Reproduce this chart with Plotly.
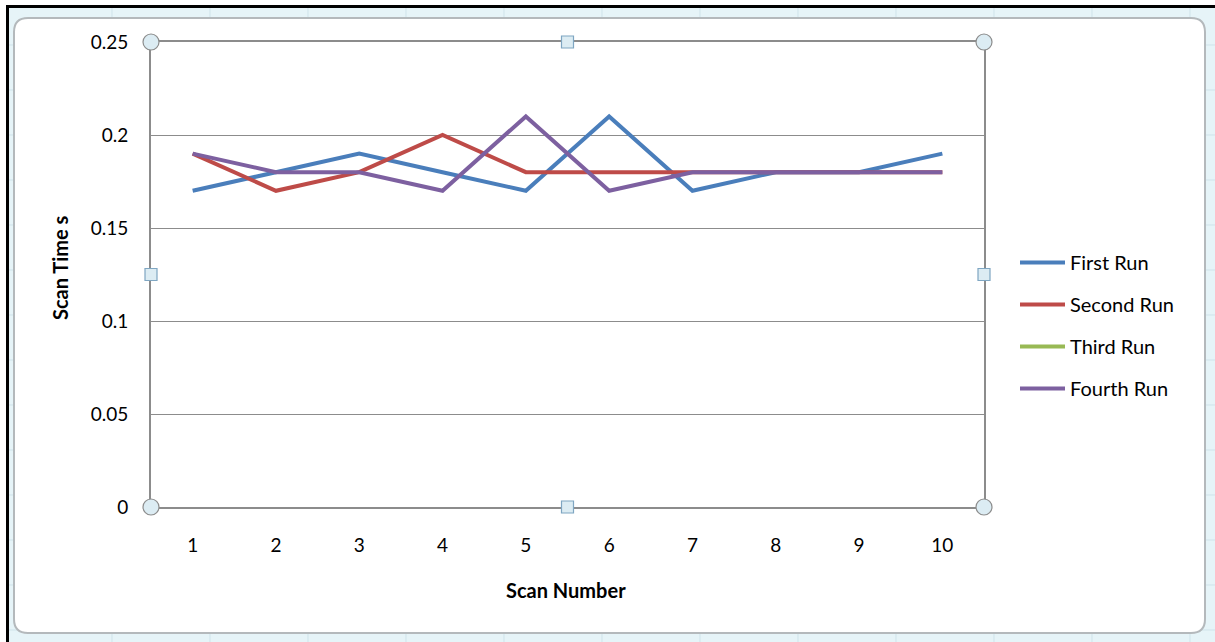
import plotly.graph_objects as go

# Scan timings per run
scan_numbers = [1, 2, 3, 4, 5, 6, 7, 8, 9, 10]
first_run = [0.17, 0.18, 0.19, 0.18, 0.17, 0.21, 0.17, 0.18, 0.18, 0.19]
second_run = [0.19, 0.17, 0.18, 0.20, 0.18, 0.18, 0.18, 0.18, 0.18, 0.18]
third_run = [None] * 10
fourth_run = [0.19, 0.18, 0.18, 0.17, 0.21, 0.17, 0.18, 0.18, 0.18, 0.18]

series_names = ["First Run", "Second Run", "Third Run", "Fourth Run"]
series_values = [first_run, second_run, third_run, fourth_run]
series_colors = ["#4a7ebb", "#be4b48", "#98b954", "#7d60a0"]

W, H = 1215, 642
PL, PR, PT, PB = 151, 984, 42, 507  # plot area in pixels
FONT = "Lato"


def px(x):
    return (x - PL) / (PR - PL)


def py(y):
    return (PB - y) / (PB - PT)


fig = go.Figure()
for name, vals, col in zip(series_names, series_values, series_colors):
    fig.add_trace(go.Scatter(
        x=scan_numbers, y=vals, name=name, mode="lines",
        line=dict(color=col, width=4), legendgroup=name,
    ))

shapes = []
# worksheet background strip around the chart
shapes.append(dict(type="rect", xref="paper", yref="paper", x0=px(8), x1=px(W + 2),
                   y0=py(7), y1=py(H + 2), fillcolor="#e6f4f8", line=dict(width=0),
                   layer="below"))
for gx in [112, 210, 308, 406, 504, 602, 700, 798, 896, 994, 1092, 1190]:
    shapes.append(dict(type="line", xref="paper", yref="paper", x0=px(gx), x1=px(gx),
                       y0=py(7), y1=py(H), line=dict(color="#cfe3ea", width=1), layer="below"))
for gy in [45, 90, 135, 180, 225, 270, 315, 360, 405, 450, 495, 540, 585, 630]:
    shapes.append(dict(type="line", xref="paper", yref="paper", x0=px(8), x1=px(W),
                       y0=py(gy), y1=py(gy), line=dict(color="#cfe3ea", width=1), layer="below"))
# worksheet border lines
shapes.append(dict(type="line", xref="paper", yref="paper", x0=px(6), x1=px(W),
                   y0=py(6.5), y1=py(6.5), line=dict(color="#000000", width=3), layer="below"))
shapes.append(dict(type="line", xref="paper", yref="paper", x0=px(7.5), x1=px(7.5),
                   y0=py(5), y1=py(H), line=dict(color="#000000", width=3), layer="below"))

# chart area: white rounded rectangle
x0, y0, x1, y1, r = 14, 18, 1205, 633, 14
path = (f"M {px(x0 + r)},{py(y0)} L {px(x1 - r)},{py(y0)} "
        f"Q {px(x1)},{py(y0)} {px(x1)},{py(y0 + r)} "
        f"L {px(x1)},{py(y1 - r)} Q {px(x1)},{py(y1)} {px(x1 - r)},{py(y1)} "
        f"L {px(x0 + r)},{py(y1)} Q {px(x0)},{py(y1)} {px(x0)},{py(y1 - r)} "
        f"L {px(x0)},{py(y0 + r)} Q {px(x0)},{py(y0)} {px(x0 + r)},{py(y0)} Z")
shapes.append(dict(type="path", xref="paper", yref="paper", path=path,
                   fillcolor="#ffffff", line=dict(color="#b4b9bc", width=2), layer="below"))

# selection handles around the plot area
for hx, hy in [(0, 0), (1, 0), (0, 1), (1, 1)]:
    shapes.append(dict(type="circle", xref="paper", yref="paper", xsizemode="pixel",
                       ysizemode="pixel", xanchor=hx, yanchor=hy, x0=-8, x1=8, y0=-8, y1=8,
                       fillcolor="#dcecf3", line=dict(color="#8c8c8c", width=1.2)))
for hx, hy in [(0.5, 0), (0.5, 1), (0, 0.5), (1, 0.5)]:
    shapes.append(dict(type="rect", xref="paper", yref="paper", xsizemode="pixel",
                       ysizemode="pixel", xanchor=hx, yanchor=hy, x0=-6, x1=6, y0=-6, y1=6,
                       fillcolor="#dcecf3", line=dict(color="#7fa6c2", width=1.2)))

annotations = [
    dict(text="<b>Scan Number</b>", xref="paper", yref="paper", x=px(566), y=py(590),
         xanchor="center", yanchor="middle", showarrow=False,
         font=dict(family=FONT, size=20, color="#000000")),
    dict(text="<b>Scan Time s</b>", xref="paper", yref="paper", x=px(60), y=py(268),
         xanchor="center", yanchor="middle", textangle=-90, showarrow=False,
         font=dict(family=FONT, size=20, color="#000000")),
]

fig.update_layout(
    width=W, height=H,
    margin=dict(l=PL, r=W - PR, t=PT, b=H - PB),
    paper_bgcolor="#ffffff",
    plot_bgcolor="rgba(0,0,0,0)",
    font=dict(family=FONT, size=19, color="#000000"),
    shapes=shapes,
    annotations=annotations,
    showlegend=True,
    legend=dict(x=px(1015), y=py(243), xanchor="left", yanchor="top",
                bgcolor="rgba(0,0,0,0)", tracegroupgap=13,
                font=dict(family=FONT, size=20, color="#000000"),
                itemwidth=45),
    xaxis=dict(range=[0.5, 10.5], tickmode="array", tickvals=scan_numbers,
               showgrid=False, zeroline=False, showline=True, mirror=True,
               linecolor="#8c8c8c", linewidth=2, ticks="", ticklabelstandoff=20,
               tickfont=dict(family=FONT, size=19)),
    yaxis=dict(range=[0, 0.25], dtick=0.05, showgrid=True, gridcolor="#8c8c8c",
               gridwidth=1.3, zeroline=False, showline=True, mirror=True,
               linecolor="#8c8c8c", linewidth=2, ticks="", ticklabelstandoff=17,
               tickfont=dict(family=FONT, size=19)),
)

fig.write_html("out.html")
